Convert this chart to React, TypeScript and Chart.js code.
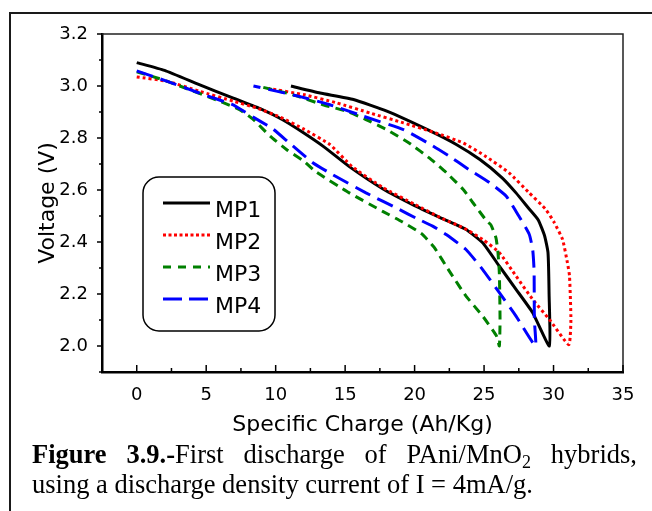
import React, { useEffect, useRef } from 'react';
import { Chart, registerables } from 'chart.js';

Chart.register(...registerables);

// ---- data ----
const seriesNames = ['MP1', 'MP2', 'MP3', 'MP4'];

const xTickValues = [0, 5, 10, 15, 20, 25, 30, 35];
const yTickValues = [2.0, 2.2, 2.4, 2.6, 2.8, 3.0, 3.2];

const mp1X = [0, 2, 4.5, 7, 9, 10.5, 12, 13.5, 15.3, 17.7, 20, 22, 23.7, 24.9, 26.1, 27.3, 28.5, 29.7, 29.68, 29.6, 29.35, 28.9, 28.25, 27.3, 26.3, 24.7, 23, 21, 18, 15.6, 13.2, 11.1];
const mp1Y = [3.09, 3.06, 3.005, 2.952, 2.91, 2.87, 2.82, 2.765, 2.69, 2.605, 2.54, 2.49, 2.448, 2.397, 2.307, 2.218, 2.128, 2.0, 2.2, 2.36, 2.425, 2.485, 2.527, 2.589, 2.647, 2.717, 2.775, 2.83, 2.903, 2.948, 2.973, 3.0];

const mp2X = [0, 2.2, 4.5, 7, 8.6, 10.3, 12, 13.9, 15.5, 17.7, 20, 22, 23.5, 24.9, 26.1, 27.3, 28.5, 29.7, 31.1, 31.25, 31.15, 31.0, 30.65, 30.05, 29.45, 28.25, 26.8, 25.1, 23.5, 21.5, 19.2, 16.8, 14.4, 12, 9.5];
const mp2Y = [3.035, 3.018, 2.98, 2.941, 2.916, 2.881, 2.835, 2.775, 2.69, 2.61, 2.545, 2.49, 2.455, 2.41, 2.359, 2.269, 2.179, 2.102, 2.005, 2.1, 2.27, 2.32, 2.41, 2.475, 2.525, 2.589, 2.666, 2.73, 2.781, 2.82, 2.858, 2.896, 2.935, 2.967, 2.99];

const mp3X = [0, 1.7, 3.1, 6, 7.4, 8.4, 9.6, 10.8, 12, 12.9, 15.3, 17.7, 19.1, 20.5, 21.4, 22.5, 23.7, 24.9, 25.9, 26.1, 26.15, 26.1, 26.0, 25.86, 25.5, 25.2, 24.2, 23.5, 22.3, 21.2, 19.6, 18, 16.5, 15.1, 13.4, 11.2, 8.7];
const mp3Y = [3.055, 3.027, 3.0, 2.941, 2.909, 2.871, 2.807, 2.755, 2.712, 2.67, 2.589, 2.518, 2.478, 2.432, 2.38, 2.288, 2.192, 2.115, 2.038, 2.0, 2.1, 2.28, 2.36, 2.415, 2.465, 2.48, 2.551, 2.602, 2.666, 2.717, 2.781, 2.832, 2.871, 2.903, 2.928, 2.967, 3.0];

const mp4X = [0, 2.2, 4.5, 6.9, 7.7, 8.9, 9.8, 11, 12.7, 14.1, 16.5, 18.9, 20.1, 21.3, 22.3, 23.7, 24.9, 26.1, 27.3, 28.7, 28.62, 28.6, 28.5, 28.25, 27.5, 26.6, 25.4, 23.9, 22.5, 21.3, 19.2, 16.3, 13.9, 11.7, 8.4];
const mp4Y = [3.058, 3.018, 2.973, 2.928, 2.903, 2.864, 2.835, 2.78, 2.704, 2.659, 2.589, 2.525, 2.492, 2.461, 2.428, 2.371, 2.294, 2.205, 2.115, 2.0, 2.1, 2.29, 2.371, 2.43, 2.5, 2.576, 2.628, 2.679, 2.73, 2.77, 2.832, 2.884, 2.928, 2.96, 3.0];

const xMin = -2.5;
const xMax = 35;
const yMin = 1.9;
const yMax = 3.2;

const seriesX = [mp1X, mp2X, mp3X, mp4X];
const seriesY = [mp1Y, mp2Y, mp3Y, mp4Y];
const seriesColors = ['#000000', '#FF0000', '#008000', '#0000FF'];
const seriesDash: number[][] = [[], [3, 3], [9, 6], [17, 8]];
const legendDash: number[][] = [[], [3, 2.5], [8, 7], [19, 7]];

const SANS = '"DejaVu Sans", Arial, sans-serif';

const axesPlugin = {
  id: 'axesDecor',
  afterDraw(chart: any) {
    const { ctx, chartArea } = chart;
    const xs = chart.scales.x;
    const ys = chart.scales.y;
    const { left, right, top, bottom } = chartArea;
    ctx.save();
    // top & right frame
    ctx.strokeStyle = '#222';
    ctx.lineWidth = 1.5;
    ctx.beginPath();
    ctx.moveTo(left, top);
    ctx.lineTo(right, top);
    ctx.lineTo(right, bottom);
    ctx.stroke();

    // x ticks (inward)
    ctx.strokeStyle = '#000';
    ctx.lineWidth = 1.5;
    for (let i = 0; i < xTickValues.length; i++) {
      const v = xTickValues[i];
      const px = xs.getPixelForValue(v);
      ctx.beginPath();
      ctx.moveTo(px, bottom);
      ctx.lineTo(px, bottom - 7);
      ctx.stroke();
      if (i < xTickValues.length - 1) {
        const m = (v + xTickValues[i + 1]) / 2;
        const pm = xs.getPixelForValue(m);
        ctx.beginPath();
        ctx.moveTo(pm, bottom);
        ctx.lineTo(pm, bottom - 4);
        ctx.stroke();
      }
    }
    // y ticks (outward)
    for (let i = 0; i < yTickValues.length; i++) {
      const v = yTickValues[i];
      const py = ys.getPixelForValue(v);
      ctx.beginPath();
      ctx.moveTo(left, py);
      ctx.lineTo(left - 5, py);
      ctx.stroke();
      const mids: number[] = [];
      if (i < yTickValues.length - 1) mids.push((v + yTickValues[i + 1]) / 2);
      if (i === 0) mids.push(v - 0.1);
      for (const m of mids) {
        const pm = ys.getPixelForValue(m);
        ctx.beginPath();
        ctx.moveTo(left, pm);
        ctx.lineTo(left - 3, pm);
        ctx.stroke();
      }
    }

    // legend box
    const lx = left + 41;
    const ly = top + 143;
    const lw = 132;
    const lh = 154;
    const r = 16;
    ctx.lineWidth = 1.5;
    ctx.strokeStyle = '#000';
    ctx.fillStyle = '#fff';
    ctx.beginPath();
    ctx.moveTo(lx + r, ly);
    ctx.lineTo(lx + lw - r, ly);
    ctx.arcTo(lx + lw, ly, lx + lw, ly + r, r);
    ctx.lineTo(lx + lw, ly + lh - r);
    ctx.arcTo(lx + lw, ly + lh, lx + lw - r, ly + lh, r);
    ctx.lineTo(lx + r, ly + lh);
    ctx.arcTo(lx, ly + lh, lx, ly + lh - r, r);
    ctx.lineTo(lx, ly + r);
    ctx.arcTo(lx, ly, lx + r, ly, r);
    ctx.closePath();
    ctx.fill();
    ctx.stroke();

    ctx.font = '22px ' + SANS;
    ctx.textBaseline = 'alphabetic';
    ctx.textAlign = 'left';
    for (let i = 0; i < seriesNames.length; i++) {
      const rowLine = ly + 26 + i * 32;
      ctx.strokeStyle = seriesColors[i];
      ctx.lineWidth = 3;
      ctx.setLineDash(legendDash[i]);
      ctx.lineCap = 'butt';
      ctx.beginPath();
      ctx.moveTo(lx + 20, rowLine);
      ctx.lineTo(lx + 67, rowLine);
      ctx.stroke();
      ctx.setLineDash([]);
      ctx.fillStyle = '#000';
      ctx.fillText(seriesNames[i], lx + 72, rowLine + 14);
    }
    ctx.restore();
  },
};

export default function App() {
  const canvasRef = useRef<HTMLCanvasElement | null>(null);

  useEffect(() => {
    const canvas = canvasRef.current;
    if (!canvas) return;
    const datasets = seriesNames.map((name, i) => ({
      label: name,
      data: seriesX[i].map((x, k) => ({ x, y: seriesY[i][k] })),
      borderColor: seriesColors[i],
      backgroundColor: seriesColors[i],
      borderWidth: 3,
      borderDash: seriesDash[i],
      borderCapStyle: 'butt' as const,
      borderJoinStyle: 'round' as const,
      showLine: true,
      pointRadius: 0,
      tension: 0.15,
      fill: false,
      order: 4 - i,
    }));

    const chart = new Chart(canvas, {
      type: 'scatter',
      data: { datasets },
      plugins: [axesPlugin],
      options: {
        animation: false,
        responsive: false,
        devicePixelRatio: 1,
        layout: { padding: { top: 34, right: 29, left: 0, bottom: 0 } },
        plugins: {
          legend: { display: false },
          tooltip: { enabled: false },
        },
        scales: {
          x: {
            type: 'linear',
            min: xMin,
            max: xMax,
            grid: { display: false },
            border: { display: true, color: '#000', width: 2.5 },
            afterBuildTicks: (scale: any) => {
              scale.ticks = xTickValues.map((v) => ({ value: v }));
            },
            afterFit: (scale: any) => {
              scale.height = 68;
            },
            ticks: {
              color: '#000',
              padding: 5,
              maxRotation: 0,
              font: { family: SANS, size: 18 },
              callback: (v: any) => String(v),
            },
            title: {
              display: true,
              text: 'Specific Charge (Ah/Kg)',
              color: '#000',
              font: { family: SANS, size: 22 },
              padding: { top: 0, bottom: 2 },
            },
          },
          y: {
            type: 'linear',
            min: yMin,
            max: yMax,
            grid: { display: false },
            border: { display: true, color: '#000', width: 2.5 },
            afterBuildTicks: (scale: any) => {
              scale.ticks = yTickValues.map((v) => ({ value: v }));
            },
            afterFit: (scale: any) => {
              scale.width = 102;
            },
            ticks: {
              color: '#000',
              padding: 6,
              font: { family: SANS, size: 18 },
              callback: (v: any) => Number(v).toFixed(1),
            },
            title: {
              display: true,
              text: 'Voltage (V)',
              color: '#000',
              font: { family: SANS, size: 22 },
              padding: { top: 35, bottom: 0 },
            },
          },
        },
      },
    } as any);
    return () => chart.destroy();
  }, []);

  return (
    <div style={{ position: 'absolute', left: 0, top: 0, width: 652, height: 511, overflow: 'hidden', background: '#fff' }}>
      <div
        style={{
          position: 'absolute',
          left: 9,
          top: 12,
          width: 643,
          height: 499,
          boxSizing: 'border-box',
          borderTop: '2px solid #1a1a1a',
          borderLeft: '2px solid #1a1a1a',
        }}
      />
      <canvas
        ref={canvasRef}
        width={652}
        height={440}
        style={{ position: 'absolute', left: 0, top: 0, width: 652, height: 440, display: 'block' }}
      />
      <div
        style={{
          position: 'absolute',
          left: 32,
          top: 439,
          width: 605,
          fontFamily: '"Liberation Serif", "Times New Roman", serif',
          fontSize: 26.5,
          lineHeight: '30px',
          color: '#000',
        }}
      >
        <div style={{ textAlign: 'justify', textAlignLast: 'justify', whiteSpace: 'nowrap' as const }}>
          <b>Figure 3.9.-</b>First discharge of PAni/MnO
          <span style={{ fontSize: '0.68em', verticalAlign: '-0.25em', lineHeight: 0 }}>2</span> hybrids,
        </div>
        <div style={{ textAlign: 'left', whiteSpace: 'nowrap' as const }}>using a discharge density current of I = 4mA/g.</div>
      </div>
    </div>
  );
}
